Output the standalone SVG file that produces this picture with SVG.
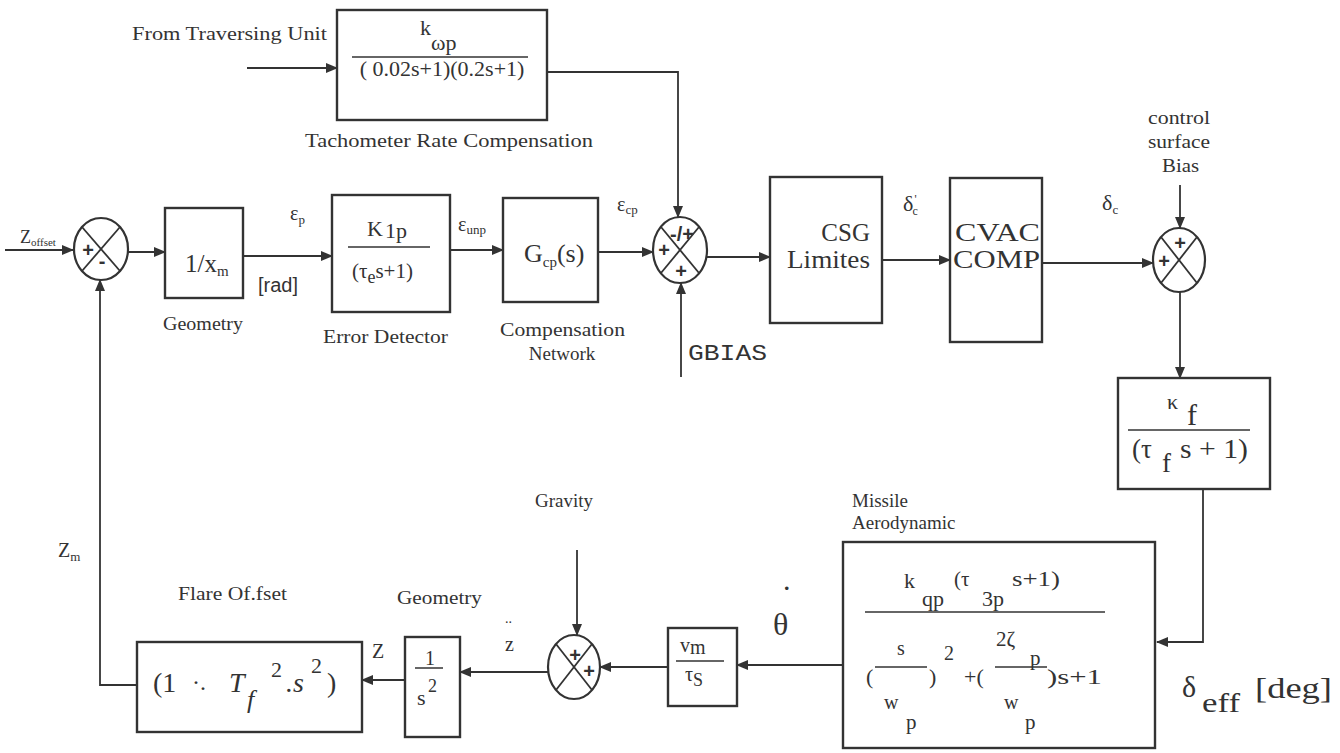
<svg xmlns="http://www.w3.org/2000/svg" width="1340" height="753" viewBox="0 0 1340 753">
  <defs>
    <marker id="arrow" viewBox="0 0 12 10" refX="11" refY="5" markerWidth="12" markerHeight="10" markerUnits="userSpaceOnUse" orient="auto">
      <path d="M0,0 L12,5 L0,10 Z" fill="#333"/>
    </marker>
    <style>
      .box { fill: none; stroke: #333; stroke-width: 2.4; }
      .sum { fill: none; stroke: #333; stroke-width: 2.2; }
      .wire { fill: none; stroke: #333; stroke-width: 1.8; }
      .arr { fill: none; stroke: #333; stroke-width: 1.8; marker-end: url(#arrow); }
      .frac { stroke: #333; stroke-width: 1.5; }
      text { font-family: "Liberation Serif", "Times New Roman", serif; fill: #333; }
      .lbl { font-size: 19px; }
      .sign { font-family: "Liberation Sans", Arial, sans-serif; font-weight: bold; font-size: 20px; text-anchor: middle; }
      .mono { font-family: "Liberation Mono", "Courier New", monospace; }
      .sans { font-family: "Liberation Sans", Arial, sans-serif; }
    </style>
  </defs>

  <rect width="1340" height="753" fill="#fff"/>

  <!-- signal paths -->
  <g id="connectors">
    <path class="arr" d="M5,250 H73"/>
    <path class="arr" d="M128,252 H165"/>
    <path class="arr" d="M243,256 H332"/>
    <path class="arr" d="M450,250 H503"/>
    <path class="arr" d="M598,252 H653"/>
    <path class="arr" d="M707,257 H770"/>
    <path class="arr" d="M882,260 H950"/>
    <path class="arr" d="M1042,263 H1153"/>
    <path class="arr" d="M247,68 H337"/>
    <path class="arr" d="M547,72 H678 V217"/>
    <path class="arr" d="M681,377 V283"/>
    <path class="arr" d="M1180,185 V228"/>
    <path class="arr" d="M1180,292 V378"/>
    <path class="arr" d="M1203,489 V642 H1157"/>
    <path class="arr" d="M843,665 H737"/>
    <path class="arr" d="M668,667 H600"/>
    <path class="arr" d="M577,550 V635"/>
    <path class="arr" d="M548,672 H460"/>
    <path class="arr" d="M405,680 H362"/>
    <path class="arr" d="M137,685 H100 V280"/>
  </g>

  <!-- input label -->
  <g id="zoffset">
    <text x="20" y="243" font-size="18">Z<tspan font-size="11" dy="3">offset</tspan></text>
  </g>

  <!-- position comparator -->
  <g id="sum-position">
    <ellipse class="sum" cx="101" cy="249" rx="27" ry="31"/>
    <line class="wire" x1="82" y1="227" x2="120" y2="271"/>
    <line class="wire" x1="120" y1="227" x2="82" y2="271"/>
    <text class="sign" x="88" y="257">+</text>
    <text class="sign" x="102" y="268" font-size="18">-</text>
  </g>

  <g id="geometry-top">
    <rect class="box" x="165" y="208" width="78" height="90"/>
    <text x="185" y="272" font-size="25">1/x<tspan font-size="15" dy="4">m</tspan></text>
    <text class="lbl" x="163" y="330" textLength="80" lengthAdjust="spacingAndGlyphs">Geometry</text>
    <text x="290" y="220" font-size="20">ε<tspan font-size="13" dy="4">p</tspan></text>
    <text class="sans" x="258" y="292" font-size="20">[rad]</text>
  </g>

  <g id="error-detector">
    <rect class="box" x="332" y="195" width="118" height="117"/>
    <text x="367" y="236" font-size="22">K<tspan dx="2" dy="2">1p</tspan></text>
    <line class="frac" x1="348" y1="247" x2="430" y2="247"/>
    <text x="352" y="278" font-size="21">(τ<tspan font-size="18" dy="5">e</tspan><tspan dy="-5">s+1)</tspan></text>
    <text class="lbl" x="323" y="343" textLength="125" lengthAdjust="spacingAndGlyphs">Error Detector</text>
    <text x="458" y="231" font-size="20">ε<tspan font-size="13" dy="3">unp</tspan></text>
  </g>

  <g id="compensation">
    <rect class="box" x="503" y="198" width="95" height="104"/>
    <text x="524" y="262" font-size="26">G<tspan font-size="15" dy="5">cp</tspan><tspan dy="-5">(s)</tspan></text>
    <text class="lbl" x="500" y="336" textLength="125" lengthAdjust="spacingAndGlyphs">Compensation</text>
    <text class="lbl" x="562" y="360" text-anchor="middle">Network</text>
    <text x="617" y="211" font-size="20">ε<tspan font-size="13" dy="3">cp</tspan></text>
  </g>

  <g id="tachometer">
    <text class="lbl" x="132" y="40" textLength="195" lengthAdjust="spacingAndGlyphs">From Traversing Unit</text>
    <rect class="box" x="337" y="10" width="210" height="110"/>
    <text x="420" y="35" font-size="22">k<tspan dy="15">ωp</tspan></text>
    <line class="frac" x1="352" y1="57" x2="528" y2="57"/>
    <text x="442" y="76" font-size="22" text-anchor="middle">( 0.02s+1)(0.2s+1)</text>
    <text class="lbl" x="305" y="147" textLength="288" lengthAdjust="spacingAndGlyphs">Tachometer Rate  Compensation</text>
  </g>

  <!-- guidance summing point -->
  <g id="sum-guidance">
    <ellipse class="sum" cx="680" cy="250" rx="27" ry="33"/>
    <line class="wire" x1="661" y1="227" x2="699" y2="273"/>
    <line class="wire" x1="699" y1="227" x2="661" y2="273"/>
    <text class="sign" x="682" y="241" font-size="15">-/+</text>
    <text class="sign" x="664" y="257">+</text>
    <text class="sign" x="681" y="278">+</text>
    <text class="mono" x="688" y="360" font-size="22" textLength="79" lengthAdjust="spacingAndGlyphs">GBIAS</text>
  </g>

  <g id="csg-limites">
    <rect class="box" x="770" y="177" width="112" height="146"/>
    <text x="870" y="241" font-size="25" text-anchor="end">CSG</text>
    <text x="870" y="268" font-size="25" text-anchor="end" textLength="83" lengthAdjust="spacingAndGlyphs">Limites</text>
    <text x="903" y="211" font-size="22">δ<tspan font-size="12" dx="1" dy="-8">'</tspan><tspan font-size="12" dx="-4" dy="12">c</tspan></text>
  </g>

  <g id="cvac-comp">
    <rect class="box" x="950" y="178" width="92" height="164"/>
    <text x="955" y="241" font-size="25" textLength="85" lengthAdjust="spacingAndGlyphs">CVAC</text>
    <text x="953" y="268" font-size="25" textLength="87" lengthAdjust="spacingAndGlyphs">COMP</text>
    <text x="1102" y="210" font-size="22">δ<tspan font-size="13" dy="4">c</tspan></text>
  </g>

  <!-- control surface bias summing point -->
  <g id="sum-bias">
    <text x="1148" y="124" font-size="19" textLength="62" lengthAdjust="spacingAndGlyphs">control</text>
    <text x="1148" y="148" font-size="19" textLength="62" lengthAdjust="spacingAndGlyphs">surface</text>
    <text x="1162" y="172" font-size="19" textLength="37" lengthAdjust="spacingAndGlyphs">Bias</text>
    <ellipse class="sum" cx="1179" cy="260" rx="26" ry="32"/>
    <line class="wire" x1="1161" y1="237" x2="1197" y2="283"/>
    <line class="wire" x1="1197" y1="237" x2="1161" y2="283"/>
    <text class="sign" x="1180" y="250">+</text>
    <text class="sign" x="1164" y="268">+</text>
  </g>

  <g id="fin-servo">
    <rect class="box" x="1118" y="378" width="152" height="111"/>
    <text x="1167" y="409" font-size="22">κ</text>
    <text x="1187" y="425" font-size="30">f</text>
    <line class="frac" x1="1128" y1="430" x2="1250" y2="430"/>
    <text x="1132" y="458" font-size="27">(τ</text>
    <text x="1162" y="472" font-size="27">f</text>
    <text x="1180" y="458" font-size="27" textLength="68" lengthAdjust="spacingAndGlyphs">s + 1)</text>
    <text x="1182" y="697" font-size="30">δ</text>
    <text x="1202" y="712" font-size="27" textLength="38" lengthAdjust="spacingAndGlyphs">eff</text>
    <text x="1255" y="698" font-size="29" textLength="77" lengthAdjust="spacingAndGlyphs">[deg]</text>
  </g>

  <g id="missile-aerodynamic">
    <text class="lbl" x="852" y="507">Missile</text>
    <text class="lbl" x="852" y="529">Aerodynamic</text>
    <rect class="box" x="843" y="542" width="312" height="206"/>
    <text x="904" y="588" font-size="22">k</text>
    <text x="922" y="606" font-size="22">qp</text>
    <text x="954" y="586" font-size="21">(τ</text>
    <text x="982" y="606" font-size="22">3p</text>
    <text x="1012" y="586" font-size="22" textLength="48" lengthAdjust="spacingAndGlyphs">s+1)</text>
    <line class="frac" x1="865" y1="612" x2="1105" y2="612"/>
    <text x="897" y="655" font-size="20">s</text>
    <text x="866" y="684" font-size="22">(</text>
    <line class="frac" x1="875" y1="667" x2="927" y2="667"/>
    <text x="929" y="684" font-size="22">)</text>
    <text x="944" y="660" font-size="20">2</text>
    <text x="964" y="684" font-size="22">+(</text>
    <text x="996" y="646" font-size="21">2ζ</text>
    <text x="1030" y="665" font-size="21">p</text>
    <line class="frac" x1="995" y1="667" x2="1047" y2="667"/>
    <text x="1047" y="684" font-size="21" textLength="55" lengthAdjust="spacingAndGlyphs">)s+1</text>
    <text x="884" y="709" font-size="20">w</text>
    <text x="906" y="729" font-size="21">p</text>
    <text x="1004" y="709" font-size="20">w</text>
    <text x="1025" y="729" font-size="21">p</text>
    <text x="783" y="590" font-size="30">.</text>
    <text x="773" y="635" font-size="32">θ</text>
  </g>

  <g id="velocity-gain">
    <rect class="box" x="668" y="628" width="69" height="78"/>
    <text x="680" y="652" font-size="20">v<tspan dy="2">m</tspan></text>
    <line class="frac" x1="676" y1="661" x2="724" y2="661"/>
    <text x="685" y="681" font-size="20">τ<tspan font-size="18" dy="5">S</tspan></text>
  </g>

  <!-- gravity summing point -->
  <g id="sum-gravity">
    <text class="lbl" x="535" y="507">Gravity</text>
    <ellipse class="sum" cx="574" cy="667" rx="26" ry="32"/>
    <line class="wire" x1="556" y1="644" x2="592" y2="690"/>
    <line class="wire" x1="592" y1="644" x2="556" y2="690"/>
    <text class="sign" x="575" y="662">+</text>
    <text class="sign" x="589" y="678">+</text>
    <text x="505" y="623" font-size="14">..</text>
    <text x="505" y="651" font-size="20">z</text>
  </g>

  <g id="geometry-bottom">
    <text class="lbl" x="397" y="604" textLength="85" lengthAdjust="spacingAndGlyphs">Geometry</text>
    <rect class="box" x="405" y="637" width="55" height="100"/>
    <text x="430" y="665" font-size="20" text-anchor="middle">1</text>
    <line class="frac" x1="415" y1="668" x2="443" y2="668"/>
    <text x="417" y="705" font-size="22">s</text>
    <text x="428" y="692" font-size="18">2</text>
    <text x="372" y="658" font-size="20">Z</text>
  </g>

  <g id="flare-offset">
    <text class="lbl" x="178" y="600" textLength="109" lengthAdjust="spacingAndGlyphs">Flare Of.fset</text>
    <rect class="box" x="137" y="642" width="225" height="90"/>
    <text x="153" y="692" font-size="28">(1</text>
    <text x="192" y="690" font-size="24">·.</text>
    <text x="229" y="692" font-size="28" font-style="italic">T</text>
    <text x="247" y="708" font-size="26" font-style="italic">f</text>
    <text x="271" y="677" font-size="22">2</text>
    <text x="286" y="692" font-size="28" font-style="italic">.s</text>
    <text x="311" y="673" font-size="22">2</text>
    <text x="327" y="692" font-size="28">)</text>
    <text x="58" y="557" font-size="20">Z<tspan font-size="13" dy="4">m</tspan></text>
  </g>
</svg>
